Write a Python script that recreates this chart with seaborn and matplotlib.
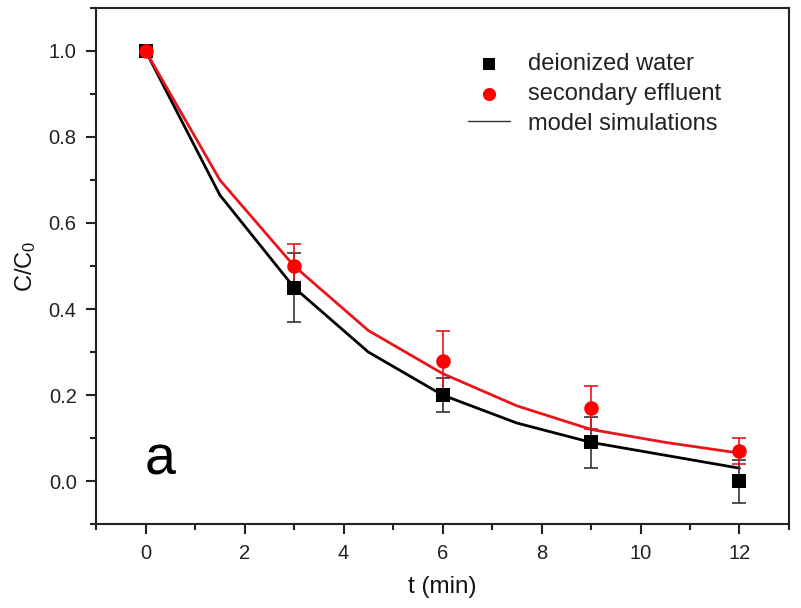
import matplotlib
matplotlib.use("Agg")
import matplotlib.pyplot as plt
import seaborn as sns
import pandas as pd
from matplotlib.ticker import MultipleLocator

# data
t_model = [0, 1.5, 3, 4.5, 6, 7.5, 9, 10.5, 12]
model_dw = [1.0, 0.665, 0.45, 0.30, 0.20, 0.135, 0.09, 0.06, 0.03]
model_se = [1.0, 0.70, 0.50, 0.35, 0.25, 0.175, 0.12, 0.09, 0.065]

t_exp = [0, 3, 6, 9, 12]
dw = [1.0, 0.45, 0.20, 0.09, 0.0]
dw_err = [0.0, 0.08, 0.04, 0.06, 0.05]
se = [1.0, 0.50, 0.28, 0.17, 0.07]
se_err = [0.0, 0.05, 0.07, 0.05, 0.03]

sns.set_theme(style="ticks")
plt.rcParams['font.family'] = ['Liberation Sans', 'DejaVu Sans']
plt.rcParams['mathtext.fontset'] = 'custom'
plt.rcParams['mathtext.rm'] = 'Liberation Sans'
plt.rcParams['mathtext.it'] = 'Liberation Sans'

fig = plt.figure(figsize=(8.01, 6.08), dpi=100)
ax = fig.add_axes([0.12, 0.138, 0.865, 0.849])

dfm = pd.DataFrame({"t": t_model * 2, "c": model_dw + model_se,
                    "s": ["dw"] * len(t_model) + ["se"] * len(t_model)})
sns.lineplot(data=dfm, x="t", y="c", hue="s", palette={"dw": "black", "se": "#e8161b"},
             linewidth=2, legend=False, ax=ax, zorder=2)

ax.errorbar(t_exp, dw, yerr=dw_err, fmt="none", ecolor="#333333", elinewidth=1.2,
            capsize=5, capthick=1.2, zorder=3)
ax.errorbar(t_exp, se, yerr=se_err, fmt="none", ecolor="#e8161b", elinewidth=1.2,
            capsize=5, capthick=1.2, zorder=3)

sns.scatterplot(x=t_exp, y=dw, marker="s", color="black", s=90, edgecolor="black",
                linewidth=0, ax=ax, zorder=4, label="deionized water")
sns.scatterplot(x=t_exp, y=se, marker="o", color="#ff0000", s=110, edgecolor="#ff0000",
                linewidth=0, ax=ax, zorder=5, label="secondary effluent")
ax.plot([], [], color="#333333", linewidth=1.0, label="model simulations")

ax.set_xlim(-1, 13)
ax.set_ylim(-0.1, 1.1)
ax.xaxis.set_major_locator(MultipleLocator(2))
ax.xaxis.set_minor_locator(MultipleLocator(1))
ax.yaxis.set_minor_locator(MultipleLocator(0.1))
ax.set_yticks([0.0, 0.2, 0.4, 0.6, 0.8, 1.0])
ax.set_yticklabels(["0.0", "0.2", "0.4", "0.6", "0.8", "1.0"])

ax.tick_params(axis="both", which="major", direction="out", length=7, width=1.5,
               labelsize=14.5, colors="#222222", pad=7)
ax.tick_params(axis="both", which="minor", direction="out", length=4, width=1.5,
               colors="#222222")
for sp in ax.spines.values():
    sp.set_linewidth(1.5)
    sp.set_color("#222222")
    sp.set_visible(True)

ax.set_xlabel("t (min)", fontsize=17.5, labelpad=10, color="#111111")
ax.set_ylabel(r"C/C$_0$", fontsize=17, labelpad=8, color="#111111")

ax.text(-0.02, 0.015, "a", fontsize=40, ha="left", va="baseline", color="black")

leg = ax.legend(loc="upper left", bbox_to_anchor=(0.523, 0.931), frameon=False,
                fontsize=17, handlelength=1.8, handletextpad=0.76, labelspacing=0.33,
                borderaxespad=0, markerscale=0.9)
for txt in leg.get_texts():
    txt.set_color("#222222")

fig.savefig("out.png", dpi=100)
